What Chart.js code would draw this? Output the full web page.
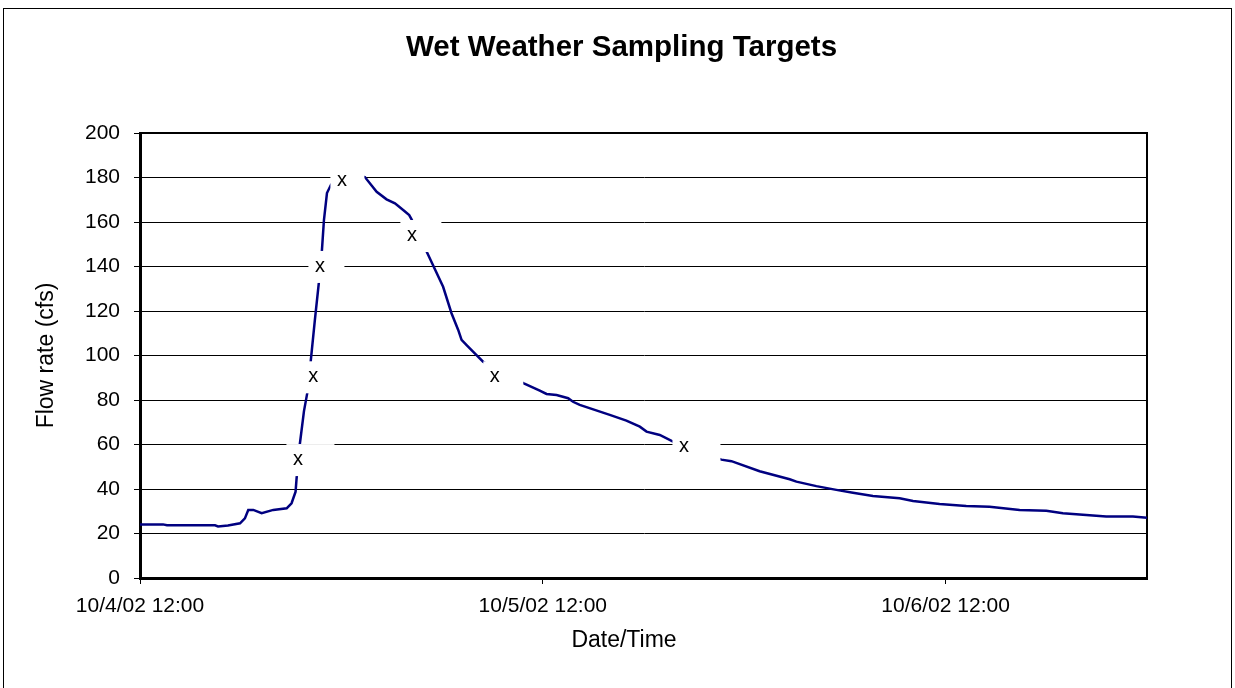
<!DOCTYPE html>
<html>
<head>
<meta charset="utf-8">
<script src="https://cdn.jsdelivr.net/npm/chart.js@4.4.1/dist/chart.umd.min.js"></script>
<style>
  html, body { margin: 0; padding: 0; background: #fff; }
  #wrap { width: 1235px; height: 688px; }
</style>
</head>
<body>
<div id="wrap"><canvas id="c" width="1235" height="688"></canvas></div>
<script>
// ---- data (hours after 10/4/02 12:00, flow in cfs) ----
const flowHours = [0, 1.37, 1.61, 4.47, 4.65, 5.24, 5.96, 6.25, 6.45, 6.75, 7.25, 7.94, 8.74, 9.03, 9.27, 9.33,
  9.52, 9.77, 10.06, 10.18, 10.42, 10.66, 10.84, 10.96, 11.14, 11.37, 11.79, 12.51, 13.40,
  14.10, 14.69, 15.19, 15.68, 16.04, 16.18, 17.09, 18.06, 18.56, 18.96, 19.16, 19.46, 20.05, 20.44,
  22.87, 23.82, 24.22, 24.82, 25.51, 25.80, 26.20, 27.99, 28.98, 29.78, 30.18, 30.97, 31.76,
  34.64, 35.24, 36.92, 38.71, 39.11, 40.30, 41.49, 42.48, 43.67, 45.26, 46.06, 47.64, 49.23,
  50.62, 52.41, 54.00, 54.99, 56.38, 57.57, 59.16, 60];
const flowValues = [24.1, 24.1, 23.7, 23.7, 23.2, 23.6, 24.6, 26.8, 30.6, 30.6, 29.1, 30.6, 31.3, 33.6, 38.8, 44.8,
  60.0, 75.0, 87.0, 98.0, 116.0, 133.0, 147.4, 160.9, 173.0, 176.6, 180.7, 181.6, 180.2,
  173.6, 170.2, 168.4, 165.4, 163.1, 161.2, 146.5, 130.9, 119.0, 111.5, 107.0, 104.7, 100.2, 97.2,
  87.5, 84.2, 82.7, 82.2, 80.8, 79.2, 77.8, 73.3, 70.7, 68.0, 65.8, 64.3, 61.3,
  53.2, 52.5, 48.0, 44.4, 43.3, 41.3, 39.6, 38.3, 36.9, 35.8, 34.6, 33.3, 32.4,
  32.0, 30.6, 30.2, 29.1, 28.3, 27.6, 27.6, 27.1];
const targetHours = [9.41, 10.32, 10.72, 12.03, 16.20, 21.14, 32.41];
const targetValues = [53.0, 90.2, 139.8, 178.6, 153.7, 90.2, 59.0];
const targetLabel = 'x';
const xTickHours = [0, 24, 48];
const xTickLabels = ['10/4/02 12:00', '10/5/02 12:00', '10/6/02 12:00'];
const yTickValues = [0, 20, 40, 60, 80, 100, 120, 140, 160, 180, 200];
const xAxisTitle = 'Date/Time';

// ---- styling ----
const FONT = "'Liberation Sans', Arial, sans-serif";
const labelBoxWidths = [48, 40, 36, 34, 41, 40, 48];

const framePlugin = {
  id: 'frame',
  beforeDraw(chart) {
    const ctx = chart.ctx;
    ctx.save();
    ctx.fillStyle = '#fff';
    ctx.fillRect(0, 0, chart.width, chart.height);
    ctx.strokeStyle = '#000';
    ctx.lineWidth = 1;
    ctx.strokeRect(3.5, 8.5, 1228, 700);
    ctx.restore();
  },
  beforeDatasetsDraw(chart) {
    const a = chart.chartArea, ctx = chart.ctx;
    ctx.save();
    ctx.strokeStyle = '#000';
    ctx.lineWidth = 2;
    ctx.beginPath();
    ctx.moveTo(a.left, a.top);
    ctx.lineTo(a.right, a.top);
    ctx.lineTo(a.right, a.bottom);
    ctx.stroke();
    ctx.restore();
  },
  afterDraw(chart) {
    const ctx = chart.ctx;
    ctx.save();
    ctx.fillStyle = '#000';
    ctx.font = '23px ' + FONT;
    ctx.textAlign = 'center';
    ctx.textBaseline = 'middle';
    ctx.fillText(xAxisTitle, 624, 641);
    ctx.restore();
  }
};

const targetLabelPlugin = {
  id: 'targetLabels',
  afterDatasetsDraw(chart) {
    const xs = chart.scales.x, ys = chart.scales.y, ctx = chart.ctx;
    ctx.save();
    ctx.font = '20px ' + FONT;
    ctx.textAlign = 'center';
    ctx.textBaseline = 'alphabetic';
    targetHours.forEach((h, i) => {
      const gx = xs.getPixelForValue(h);
      const gy = ys.getPixelForValue(targetValues[i]);
      ctx.fillStyle = '#fff';
      ctx.fillRect(gx - 11.5, gy - 16, labelBoxWidths[i], 32);
      ctx.fillStyle = '#000';
      ctx.fillText(targetLabel, gx, gy + 5);
    });
    ctx.restore();
  }
};

new Chart(document.getElementById('c'), {
  type: 'line',
  data: {
    datasets: [
      {
        label: 'Flow',
        data: flowHours.map((h, i) => ({ x: h, y: flowValues[i] })),
        borderColor: '#000080',
        borderWidth: 2.5,
        pointRadius: 0,
        tension: 0,
        fill: false
      },
      {
        label: 'Targets',
        data: targetHours.map((h, i) => ({ x: h, y: targetValues[i] })),
        showLine: false,
        pointRadius: 0
      }
    ]
  },
  options: {
    responsive: false,
    animation: false,
    devicePixelRatio: 1,
    layout: { padding: { left: 8, right: 0, top: 0, bottom: 0 } },
    plugins: {
      legend: { display: false },
      tooltip: { enabled: false },
      title: {
        display: true,
        text: 'Wet Weather Sampling Targets',
        color: '#000',
        font: { family: FONT, size: 29.5, weight: 'bold' },
        padding: { top: 30.5, bottom: 67.1 }
      }
    },
    scales: {
      x: {
        type: 'linear',
        min: 0,
        max: 60,
        afterBuildTicks(scale) { scale.ticks = xTickHours.map(v => ({ value: v })); },
        afterFit(scale) { scale.height = 110; },
        ticks: {
          autoSkip: false,
          maxRotation: 0,
          color: '#000',
          padding: 10,
          font: { family: FONT, size: 21 },
          callback: (v, i) => xTickLabels[i]
        },
        grid: { drawOnChartArea: false, drawTicks: true, tickLength: 6, color: '#000', lineWidth: 1 },
        border: { display: true, color: '#000', width: 3 },
        title: { display: false }
      },
      y: {
        min: 0,
        max: 200,
        afterBuildTicks(scale) { scale.ticks = yTickValues.map(v => ({ value: v })); },
        afterFit(scale) { scale.width = 132; },
        ticks: {
          color: '#000',
          padding: 14,
          font: { family: FONT, size: 21 }
        },
        grid: { color: '#000', lineWidth: 1, tickLength: 6, drawTicks: true },
        border: { display: true, color: '#000', width: 3 },
        title: {
          display: true,
          text: 'Flow rate (cfs)',
          color: '#000',
          font: { family: FONT, size: 23 },
          padding: { top: 25, bottom: 0 }
        }
      },
      yRight: {
        position: 'right',
        min: 0,
        max: 200,
        afterFit(scale) { scale.width = 88; },
        ticks: { display: false },
        grid: { display: false, drawOnChartArea: false },
        border: { display: false }
      }
    }
  },
  plugins: [framePlugin, targetLabelPlugin]
});
</script>
</body>
</html>
